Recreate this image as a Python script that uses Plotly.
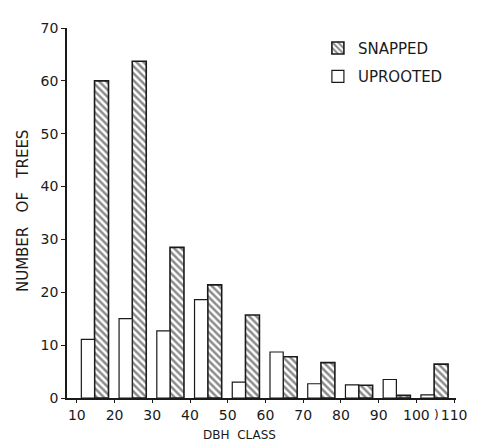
import plotly.graph_objects as go

classes = [10, 20, 30, 40, 50, 60, 70, 80, 90, 100]
snapped = [60.0, 63.7, 28.5, 21.4, 15.7, 7.8, 6.7, 2.4, 0.5, 6.4]
uprooted = [11.1, 15.0, 12.7, 18.6, 3.0, 8.7, 2.7, 2.5, 3.5, 0.6]
x_ticks = [10, 20, 30, 40, 50, 60, 70, 80, 90, 100, 110]
x_ticktext = ["10", "20", "30", "40", "50", "60", "70", "80", "90", "100", "110"]
y_ticks = [0, 10, 20, 30, 40, 50, 60, 70]

FONT = "DejaVu Sans"
INK = "#1a1a1a"

# page body has an 8px margin, so the figure is drawn 8px in from the window
W, H = 471, 440
L, T = 59, 12
R = W - 457
B = H - 390

fig = go.Figure()
fig.add_trace(go.Bar(
    x=classes, y=snapped, name="SNAPPED", legendgroup="s",
    offset=4.7, width=3.7,
    marker=dict(color="white", line=dict(color=INK, width=1.6),
                pattern=dict(shape="\\", fgcolor=INK, bgcolor="white",
                             size=5, solidity=0.5)),
))
fig.add_trace(go.Bar(
    x=classes, y=uprooted, name="UPROOTED", legendgroup="u",
    offset=1.2, width=3.5,
    marker=dict(color="white", line=dict(color=INK, width=1.2)),
))

pw = W - L - R
ph = H - T - B

fig.update_layout(
    width=W, height=H,
    margin=dict(l=L, r=R, t=T, b=B),
    paper_bgcolor="white", plot_bgcolor="white",
    font=dict(family=FONT, size=14, color=INK),
    barmode="overlay",
    showlegend=True,
    legend=dict(x=0.645, y=0.99, xanchor="left", yanchor="top",
                bgcolor="rgba(0,0,0,0)", font=dict(size=15, family=FONT),
                traceorder="grouped", itemwidth=30, tracegroupgap=6),
    xaxis=dict(range=[7.4, 110.5], tickvals=x_ticks, ticktext=x_ticktext,
               showgrid=False, zeroline=False, showline=True,
               linecolor=INK, linewidth=1.5, ticks="outside", ticklen=3,
               tickcolor=INK, tickfont=dict(size=14)),
    yaxis=dict(range=[0, 70], tickvals=y_ticks, showgrid=False,
               zeroline=False, showline=True, linecolor=INK, linewidth=1.5,
               ticks="outside", ticklen=4, tickcolor=INK,
               tickfont=dict(size=14)),
    annotations=[
        dict(text="NUMBER   OF   TREES", xref="paper", yref="paper",
             x=-45 / pw, xanchor="center", y=0.5 + 2 / ph, yanchor="middle",
             textangle=-90, showarrow=False,
             font=dict(size=15, family=FONT)),
        dict(text="DBH  CLASS", xref="paper", yref="paper",
             x=(244 - 67) / pw, xanchor="center", y=-38 / ph,
             yanchor="middle", showarrow=False,
             font=dict(size=12, family=FONT)),
        dict(text=")", xref="x", yref="paper", x=105.2, y=-17 / ph,
             yanchor="middle", showarrow=False,
             font=dict(size=12, family=FONT)),
    ],
)

fig.write_html("out.html")
